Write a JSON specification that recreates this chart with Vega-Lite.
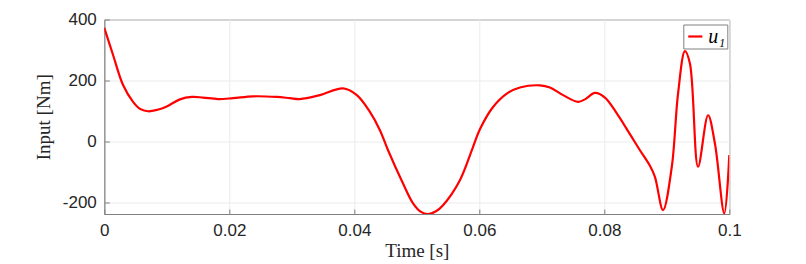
{
  "$schema": "https://vega.github.io/schema/vega-lite/v6.json",
  "autosize": "none",
  "width": 625,
  "height": 194.5,
  "padding": {"left": 104.3, "top": 19.5, "right": 76.7, "bottom": 50},
  "background": "white",
  "config": {
    "view": {"stroke": "#808080", "strokeWidth": 1},
    "axis": {
      "domainColor": "#808080",
      "tickColor": "#808080",
      "gridColor": "#ebebeb",
      "labelFont": "Liberation Sans",
      "labelFontSize": 17,
      "labelColor": "#262626",
      "titleFont": "Liberation Serif",
      "titleFontSize": 19,
      "titleFontWeight": "normal",
      "titleColor": "#262626",
      "tickSize": -5
    }
  },
  "data": {
    "values": [
      {"t": 0.0, "u": 373, "s": "u₁"},
      {"t": 0.00144, "u": 281, "s": "u₁"},
      {"t": 0.003, "u": 185, "s": "u₁"},
      {"t": 0.0046, "u": 130, "s": "u₁"},
      {"t": 0.0058, "u": 106, "s": "u₁"},
      {"t": 0.007, "u": 99, "s": "u₁"},
      {"t": 0.0085, "u": 104, "s": "u₁"},
      {"t": 0.01, "u": 115, "s": "u₁"},
      {"t": 0.0121, "u": 138, "s": "u₁"},
      {"t": 0.014, "u": 146, "s": "u₁"},
      {"t": 0.0158, "u": 144, "s": "u₁"},
      {"t": 0.0182, "u": 139, "s": "u₁"},
      {"t": 0.0206, "u": 142, "s": "u₁"},
      {"t": 0.0238, "u": 148, "s": "u₁"},
      {"t": 0.0276, "u": 146, "s": "u₁"},
      {"t": 0.0297, "u": 142, "s": "u₁"},
      {"t": 0.0313, "u": 139, "s": "u₁"},
      {"t": 0.0345, "u": 152, "s": "u₁"},
      {"t": 0.0382, "u": 174, "s": "u₁"},
      {"t": 0.0404, "u": 152, "s": "u₁"},
      {"t": 0.0424, "u": 100, "s": "u₁"},
      {"t": 0.0441, "u": 37, "s": "u₁"},
      {"t": 0.0454, "u": -29, "s": "u₁"},
      {"t": 0.0478, "u": -138, "s": "u₁"},
      {"t": 0.0494, "u": -203, "s": "u₁"},
      {"t": 0.0506, "u": -230, "s": "u₁"},
      {"t": 0.0518, "u": -238, "s": "u₁"},
      {"t": 0.053, "u": -230, "s": "u₁"},
      {"t": 0.0542, "u": -209, "s": "u₁"},
      {"t": 0.0569, "u": -127, "s": "u₁"},
      {"t": 0.0588, "u": -29, "s": "u₁"},
      {"t": 0.0601, "u": 40, "s": "u₁"},
      {"t": 0.0622, "u": 113, "s": "u₁"},
      {"t": 0.0644, "u": 157, "s": "u₁"},
      {"t": 0.0665, "u": 177, "s": "u₁"},
      {"t": 0.0697, "u": 184, "s": "u₁"},
      {"t": 0.0713, "u": 177, "s": "u₁"},
      {"t": 0.0734, "u": 152, "s": "u₁"},
      {"t": 0.0758, "u": 130, "s": "u₁"},
      {"t": 0.0769, "u": 138, "s": "u₁"},
      {"t": 0.0785, "u": 159, "s": "u₁"},
      {"t": 0.0801, "u": 144, "s": "u₁"},
      {"t": 0.082, "u": 92, "s": "u₁"},
      {"t": 0.0841, "u": 24, "s": "u₁"},
      {"t": 0.0857, "u": -29, "s": "u₁"},
      {"t": 0.0873, "u": -80, "s": "u₁"},
      {"t": 0.0881, "u": -116, "s": "u₁"},
      {"t": 0.0894, "u": -225, "s": "u₁"},
      {"t": 0.0908, "u": -83, "s": "u₁"},
      {"t": 0.0918, "u": 157, "s": "u₁"},
      {"t": 0.0929, "u": 296, "s": "u₁"},
      {"t": 0.0937, "u": 256, "s": "u₁"},
      {"t": 0.095, "u": -83, "s": "u₁"},
      {"t": 0.0966, "u": 86, "s": "u₁"},
      {"t": 0.0977, "u": -7, "s": "u₁"},
      {"t": 0.0992, "u": -236, "s": "u₁"},
      {"t": 0.1, "u": -45, "s": "u₁"}
    ]
  },
  "mark": {"type": "line", "interpolate": "catmull-rom", "strokeWidth": 2.2, "clip": true},
  "encoding": {
    "x": {
      "field": "t", "type": "quantitative",
      "scale": {"domain": [0, 0.1], "nice": false, "zero": false},
      "axis": {"values": [0, 0.02, 0.04, 0.06, 0.08, 0.1], "labelExpr": "'' + datum.value", "title": "Time [s]", "labelPadding": 13, "titlePadding": 3, "labelFlush": false}
    },
    "y": {
      "field": "u", "type": "quantitative",
      "scale": {"domain": [-238, 400], "nice": false, "zero": false},
      "axis": {"values": [-200, 0, 200, 400], "labelExpr": "'' + datum.value", "title": "Input [Nm]", "labelPadding": 13, "titlePadding": 9, "labelFlush": false}
    },
    "color": {
      "field": "s", "type": "nominal",
      "scale": {"range": ["#ff0000"]},
      "legend": {
        "title": null,
        "orient": "none",
        "legendX": 579,
        "legendY": 5,
        "symbolType": "stroke",
        "symbolStrokeWidth": 2.2,
        "symbolSize": 200,
        "labelOffset": 3,
        "labelFont": "Liberation Serif",
        "labelFontStyle": "italic",
        "labelFontSize": 20,
        "labelColor": "#000000",
        "strokeColor": "#808080",
        "fillColor": "white",
        "padding": 2
      }
    }
  }
}
